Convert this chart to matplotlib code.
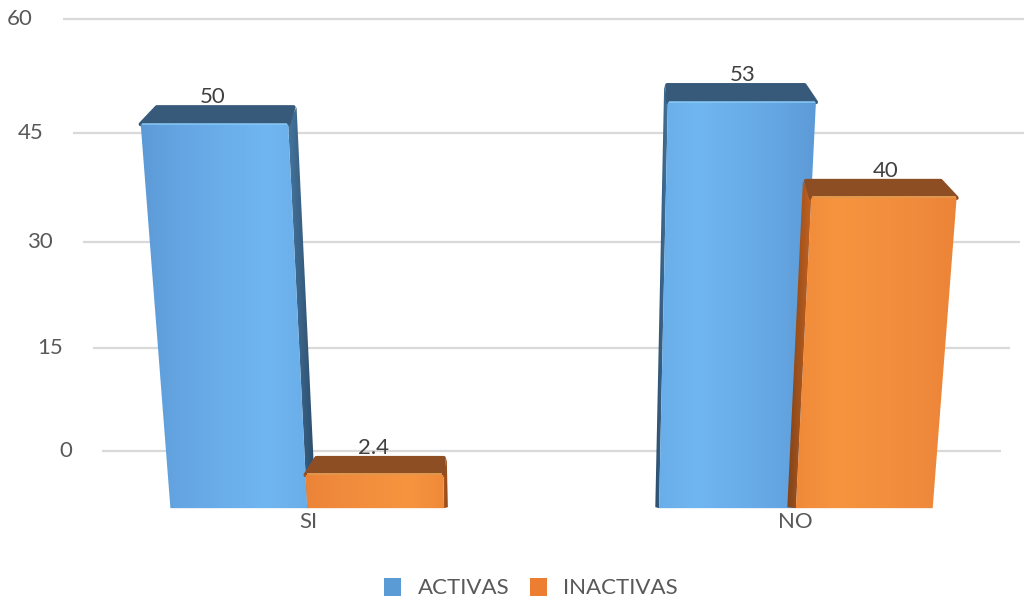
import numpy as np
import matplotlib
matplotlib.use("Agg")
import matplotlib.pyplot as plt
from matplotlib.patches import Polygon, Patch
from matplotlib.transforms import IdentityTransform
from matplotlib.colors import LinearSegmentedColormap

# ---- data ----
categories = ["SI", "NO"]
series_names = ["ACTIVAS", "INACTIVAS"]
activas = [50, 53]
inactivas = [2.4, 40]
value_labels_act = ["50", "53"]
value_labels_inact = ["2.4", "40"]
y_ticks = [0, 15, 30, 45, 60]
y_tick_labels = ["0", "15", "30", "45", "60"]

# ---- style ----
plt.rcParams['font.family'] = ['Lato', 'DejaVu Sans']
TEXT = '#595959'
GRID = '#d9d9d9'
LEGEND_COLORS = ['#5b9bd5', '#ed7d31']

BLUE = dict(front=['#5c9ad6', '#64a6e3', '#6aaeea', '#70b6f1', '#6aaee9'],
            side=['#46779f', '#2a4a68'], top='#375a7b', rim='#8fd2ff')
ORANGE = dict(front=['#ec8438', '#f08a3c', '#f3903e', '#f6943f', '#ef8939'],
              side=['#c4621f', '#7d4219'], top='#8e4e24', rim='#ffb25e')
BAR_STYLES = [BLUE, ORANGE]

FIG_W, FIG_H, DPI = 10.24, 6.0, 100
fig = plt.figure(figsize=(FIG_W, FIG_H), dpi=DPI)

# back wall: value axis slightly foreshortened toward the top
ax = fig.add_axes([0, 0, 1, 1])
ax.axis('off')
ax.set_autoscale_on(False)
A, B = 6.73, 0.0077


def fwd(v):
    v = np.asarray(v, float)
    return A * v + B * v * v


def inv(p):
    p = np.asarray(p, float)
    return (-A + np.sqrt(np.maximum(A * A + 4 * B * p, 0.0))) / (2 * B)


ax.set_yscale('function', functions=(fwd, inv))
ax.set_ylim(float(inv(-149)), float(inv(451)))
XLIM = (-283 / 537, (1024 - 283) / 537)
ax.set_xlim(*XLIM)

# the bars stand in front of the wall, so they get their own (linear) scale
axb = fig.add_axes([0, 0, 1, 1])
axb.axis('off')
axb.set_autoscale_on(False)
axb.set_xlim(*XLIM)
axb.set_ylim(-16.87, 64.55)

# perspective: the chart narrows toward the floor around a vanishing column
CX = 552
TOP_PY, BOT_PY = 580.0, 92.0
SHRINK = 0.09
FLOOR = -2.1          # floor of the bars (value units, bar scale)
FRONT_DROP = 17       # px: front edge of a bar top below its back edge
DEPTH_PULL = 0.035    # back edges move toward the vanishing column
BAR_W = 0.28
OFFSETS = [-0.14, 0.14]


def project(axis, x, v, drop=0.0, pull=0.0):
    x, v = np.broadcast_arrays(np.atleast_1d(np.asarray(x, float)),
                               np.atleast_1d(np.asarray(v, float)))
    px, py = axis.transData.transform(np.column_stack([x, v])).T
    py = py - drop
    s = 1 - SHRINK * (TOP_PY - py) / (TOP_PY - BOT_PY)
    px = CX + (px - CX) * s
    px = px + (CX - px) * pull
    return px, py


def shaded_poly(xs, ys, colors, zorder, round_edge=None):
    poly = Polygon(np.column_stack([xs, ys]), closed=True,
                   transform=IdentityTransform(), facecolor='none',
                   edgecolor='none')
    axb.add_patch(poly)
    cmap = LinearSegmentedColormap.from_list('face', colors)
    grad = np.linspace(0, 1, 256)[None, :]
    im = axb.imshow(grad, cmap=cmap, aspect='auto', interpolation='bicubic',
                    extent=(xs.min() - 1, xs.max() + 1, ys.min() - 1, ys.max() + 1),
                    transform=IdentityTransform(), zorder=zorder)
    im.set_clip_path(poly)


# ---- gridlines and value-axis labels ----
grid_x0 = (63 - 283) / 537
grid_x1 = (1040 - 283) / 537
for v, lab in zip(y_ticks, y_tick_labels):
    xs, ys = project(ax, [grid_x0, grid_x1], [v, v])
    xs = np.clip(xs, 0, 1024)
    ax.plot(xs, ys, color=GRID, lw=1.6, transform=IdentityTransform(),
            solid_capstyle='butt', zorder=1)
    ax.text(xs[0] - 30, ys[0], lab, transform=IdentityTransform(),
            ha='right', va='center', fontsize=16, color=TEXT)


# ---- bars ----
def draw_bar(xc, v, style, label, z):
    x0, x1 = xc - BAR_W / 2, xc + BAR_W / 2
    fx, fy = project(axb, [x0, x1, x1, x0], [FLOOR, FLOOR, v, v], drop=FRONT_DROP)
    bx, by = project(axb, [x0, x1], [v, v], pull=DEPTH_PULL)
    bfx, _ = project(axb, [x0, x1], [FLOOR, FLOOR], drop=FRONT_DROP, pull=DEPTH_PULL)

    # side face toward the vanishing column
    if (fx[0] + fx[1]) / 2 < CX:
        sx = np.array([fx[2], bx[1], bfx[1], fx[1]])
        sy = np.array([fy[2], by[1], fy[1] + 1, fy[1]])
        shaded_poly(sx, sy, style['side'], z)
        front_cols = style['front']
    else:
        sx = np.array([fx[3], bx[0], bfx[0], fx[0]])
        sy = np.array([fy[3], by[0], fy[0] + 1, fy[0]])
        shaded_poly(sx, sy, style['side'][::-1], z)
        front_cols = style['front'][::-1]

    # top face
    tx = np.array([fx[3], fx[2], bx[1] - 3, bx[0] + 3])
    ty = np.array([fy[3], fy[2], by[1], by[0]])
    axb.add_patch(Polygon(np.column_stack([tx, ty]), closed=True,
                          transform=IdentityTransform(), facecolor=style['top'],
                          edgecolor=style['top'], lw=3, joinstyle='round',
                          zorder=z + 0.1))

    # front face
    shaded_poly(fx, fy, front_cols, z + 0.2)
    axb.plot([fx[3] + 2, fx[2] - 2], [fy[3] + 0.5, fy[2] + 0.5],
             color=style['rim'], lw=1.3, transform=IdentityTransform(),
             zorder=z + 0.3, alpha=0.8)

    # value label just above the bar top
    lx, ly = project(axb, xc, v, drop=-10)
    axb.text(lx[0], ly[0], label, transform=IdentityTransform(), ha='center',
             va='center', fontsize=16, color='#404040', zorder=z + 0.5)


z = 3
for i in range(len(categories)):
    draw_bar(i + OFFSETS[0], activas[i], BAR_STYLES[0], value_labels_act[i], z)
    z += 1
    draw_bar(i + OFFSETS[1], inactivas[i], BAR_STYLES[1], value_labels_inact[i], z)
    z += 1

# ---- category labels ----
for i, cat in enumerate(categories):
    lx, ly = project(axb, i, FLOOR, drop=FRONT_DROP + 14)
    axb.text(lx[0], ly[0], cat, transform=IdentityTransform(), ha='center',
             va='center', fontsize=16, color=TEXT)

# ---- legend ----
handles = [Patch(facecolor=c, edgecolor='none', label=n)
           for c, n in zip(LEGEND_COLORS, series_names)]
fig.legend(handles=handles, loc='center', bbox_to_anchor=(531 / 1024, 1 - 588 / 600),
           ncol=2, frameon=False, fontsize=16, labelcolor=TEXT,
           handlelength=0.77, handleheight=0.9, handletextpad=0.75,
           columnspacing=0.9)

fig.savefig('out.png', dpi=DPI, facecolor='white')
